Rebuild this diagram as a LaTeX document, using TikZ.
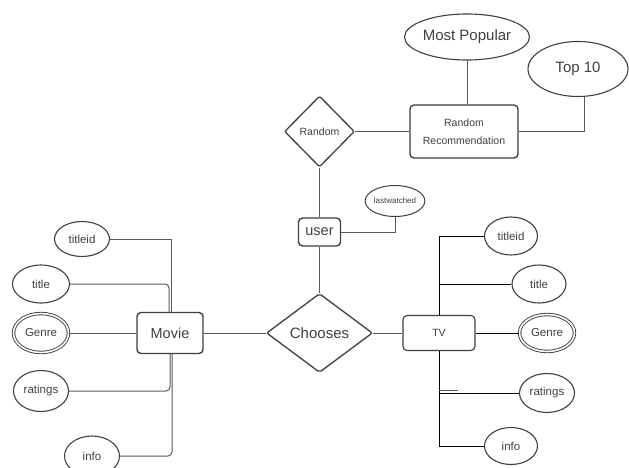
\documentclass[tikz,border=0pt]{standalone}
\usepackage{fontspec}
\setmainfont{Liberation Sans}
\usetikzlibrary{shapes.geometric}

\newcommand{\fs}[1]{\fontsize{#1}{#1}\selectfont}

\begin{document}
\begin{tikzpicture}[x=1pt,y=-1pt,
  every node/.style={text=black!75, font=\fs{11.5}},
  attr/.style={ellipse, draw=black!75, line width=1.1pt, inner sep=0pt},
  multi/.style={attr, double=white, double distance=1.6pt, line width=0.9pt},
  ent/.style={rectangle, rounded corners=4pt, draw=black!75, line width=1.4pt, inner sep=0pt},
  rel/.style={diamond, draw=black!75, line width=1.3pt, inner sep=0pt, rounded corners=2pt},
  link/.style={draw=black!65, line width=1pt},
  tvlink/.style={draw=black, line width=1pt}]

\fill[white] (0,0) rectangle (629,468);
\useasboundingbox (0,0) rectangle (629,468);

% recommendation part
\node[attr, minimum width=112pt, minimum height=46pt, font=\fs{15}] (mp) at (467,37) {Most Popular};
\node[attr, minimum width=100pt, minimum height=55pt, font=\fs{15}] (top) at (578,69) {Top 10};
\node[ent, minimum width=108pt, minimum height=53pt, align=center, font=\fontsize{10.5}{18}\selectfont] (rr) at (464,131.5) {Random\\Recommendation};
\node[rel, minimum width=70pt, minimum height=71pt, font=\fs{10.5}] (rnd) at (319.5,131.5) {Random};

% user
\node[ent, minimum width=42pt, minimum height=28pt, font=\fs{14.5}] (usr) at (319.5,232) {user};
\node[attr, minimum width=57pt, minimum height=31pt, line width=1pt, font=\fs{8}] (lw) at (395,201) {lastwatched};

% central relationship and entities
\node[rel, minimum width=106pt, minimum height=79pt, font=\fs{15}] (ch) at (319.5,333) {Chooses};
\node[ent, minimum width=66pt, minimum height=41pt, font=\fs{14.5}] (mv) at (170,333) {Movie};
\node[ent, minimum width=72pt, minimum height=35pt, line width=1.1pt, font=\fs{10.5}] (tv) at (439,333) {TV};

% movie attributes
\node[attr, minimum width=55pt, minimum height=35pt] (mtid) at (82,239) {titleid};
\node[attr, minimum width=57pt, minimum height=38pt] (mtit) at (41,284) {title};
\node[multi, minimum width=55pt, minimum height=39pt] (mgen) at (41,333) {Genre};
\node[attr, minimum width=55pt, minimum height=41pt] (mrat) at (41,391) {ratings};
\node[attr, minimum width=55pt, minimum height=40pt] (minf) at (92,456) {info};

% tv attributes
\node[attr, minimum width=53pt, minimum height=38pt] (ttid) at (511,236) {titleid};
\node[attr, minimum width=54pt, minimum height=38pt] (ttit) at (539,284) {title};
\node[multi, minimum width=55pt, minimum height=37pt] (tgen) at (547,333) {Genre};
\node[attr, minimum width=55pt, minimum height=39pt] (trat) at (547,393) {ratings};
\node[attr, minimum width=53pt, minimum height=37pt] (tinf) at (511,446) {info};

% connectors
\draw[link] (mp.south) -- (mp.south |- rr.north);
\draw[link] (rr.east) -| ([xshift=6pt]top.south);
\draw[link] (rnd.east) -- (rnd.east -| rr.west);
\draw[link] (rnd.south) -- (usr.north);
\draw[link] (usr.east) -| (lw.south);
\draw[link] (usr.south) -- (ch.north);
\draw[link] (mv.east) -- (ch.west);
\draw[link] (ch.east) -- (tv.west);

\draw[link] (mtid.east) -| ([xshift=1.5pt]mv.north);
\draw[link, rounded corners=4pt] (mtit.east) -| ([xshift=-1pt]mv.north);
\draw[link] (mgen) -- (mv);
\draw[link, rounded corners=4pt] (mv.south) |- (mrat.east);
\draw[link, rounded corners=4pt] ([xshift=2pt]mv.south) |- (minf.east);

\draw[tvlink] (ttid.west) -| (tv.north);
\draw[tvlink] (ttit.west) -- (ttit.west -| tv.north);
\draw[tvlink] (tv.east) -- (tgen.west);
\draw[tvlink] (trat.west) -- (trat.west -| tv.south);
\draw[tvlink] (tinf.west) -| (tv.south);
\coordinate (stub) at ([yshift=2.5pt]trat.west -| tv.south);
\draw[link] (stub) -- ++(19,0);
\end{tikzpicture}
\end{document}
